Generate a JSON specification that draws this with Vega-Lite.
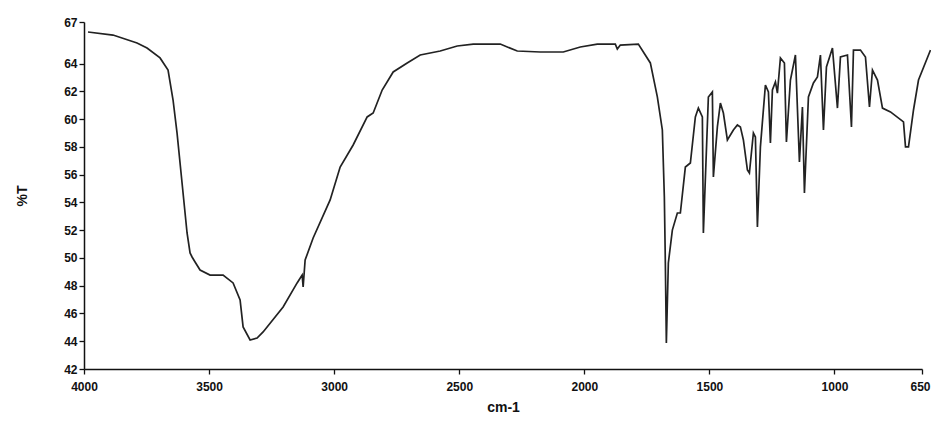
{
  "$schema": "https://vega.github.io/schema/vega-lite/v6.json",
  "width": 838,
  "height": 347,
  "autosize": {"type": "none"},
  "padding": {"left": 84, "top": 22, "right": 9, "bottom": 56},
  "background": "white",
  "config": {
    "view": {"stroke": null},
    "axis": {
      "grid": false,
      "domainColor": "#111",
      "domainWidth": 1.5,
      "tickColor": "#111",
      "tickWidth": 1.3,
      "tickSize": 5,
      "labelFont": "Liberation Sans",
      "labelFontWeight": "bold",
      "labelFontSize": 12,
      "labelColor": "#111",
      "titleFont": "Liberation Sans",
      "titleFontWeight": "bold",
      "titleColor": "#111"
    }
  },
  "data": {
    "values": [
      {"wn": 3984, "t": 66.28}, {"wn": 3884, "t": 66.06}, {"wn": 3788, "t": 65.49}, {"wn": 3748, "t": 65.13},
      {"wn": 3696, "t": 64.41}, {"wn": 3664, "t": 63.54}, {"wn": 3644, "t": 61.38}, {"wn": 3628, "t": 59.0},
      {"wn": 3608, "t": 55.4}, {"wn": 3588, "t": 51.8}, {"wn": 3576, "t": 50.36}, {"wn": 3568, "t": 50.07},
      {"wn": 3556, "t": 49.71}, {"wn": 3536, "t": 49.13}, {"wn": 3496, "t": 48.77}, {"wn": 3444, "t": 48.77},
      {"wn": 3404, "t": 48.2}, {"wn": 3376, "t": 46.97}, {"wn": 3364, "t": 45.03}, {"wn": 3336, "t": 44.09},
      {"wn": 3308, "t": 44.23}, {"wn": 3284, "t": 44.67}, {"wn": 3204, "t": 46.47}, {"wn": 3148, "t": 48.2},
      {"wn": 3128, "t": 48.77}, {"wn": 3124, "t": 47.91}, {"wn": 3116, "t": 49.85}, {"wn": 3084, "t": 51.44},
      {"wn": 3016, "t": 54.18}, {"wn": 2976, "t": 56.55}, {"wn": 2924, "t": 58.14}, {"wn": 2868, "t": 60.16},
      {"wn": 2844, "t": 60.44}, {"wn": 2808, "t": 62.1}, {"wn": 2764, "t": 63.4}, {"wn": 2708, "t": 64.05},
      {"wn": 2656, "t": 64.62}, {"wn": 2576, "t": 64.91}, {"wn": 2508, "t": 65.27}, {"wn": 2444, "t": 65.41},
      {"wn": 2336, "t": 65.41}, {"wn": 2268, "t": 64.91}, {"wn": 2176, "t": 64.84}, {"wn": 2084, "t": 64.84},
      {"wn": 2016, "t": 65.2}, {"wn": 1948, "t": 65.41}, {"wn": 1876, "t": 65.41}, {"wn": 1868, "t": 65.05},
      {"wn": 1856, "t": 65.34}, {"wn": 1784, "t": 65.41}, {"wn": 1736, "t": 64.05}, {"wn": 1708, "t": 61.6},
      {"wn": 1688, "t": 59.22}, {"wn": 1680, "t": 54.39}, {"wn": 1676, "t": 49.64}, {"wn": 1672, "t": 43.87},
      {"wn": 1664, "t": 49.64}, {"wn": 1648, "t": 52.01}, {"wn": 1628, "t": 53.24}, {"wn": 1616, "t": 53.24},
      {"wn": 1596, "t": 56.55}, {"wn": 1576, "t": 56.84}, {"wn": 1556, "t": 60.16}, {"wn": 1544, "t": 60.8},
      {"wn": 1528, "t": 60.16}, {"wn": 1524, "t": 51.8}, {"wn": 1504, "t": 61.6}, {"wn": 1488, "t": 61.96},
      {"wn": 1484, "t": 55.83}, {"wn": 1468, "t": 59.44}, {"wn": 1456, "t": 61.16}, {"wn": 1444, "t": 60.44},
      {"wn": 1428, "t": 58.5}, {"wn": 1404, "t": 59.22}, {"wn": 1388, "t": 59.58}, {"wn": 1376, "t": 59.44},
      {"wn": 1364, "t": 58.5}, {"wn": 1348, "t": 56.34}, {"wn": 1340, "t": 56.12}, {"wn": 1324, "t": 59.0},
      {"wn": 1316, "t": 58.71}, {"wn": 1308, "t": 52.23}, {"wn": 1296, "t": 58.0}, {"wn": 1276, "t": 62.46},
      {"wn": 1264, "t": 61.96}, {"wn": 1256, "t": 58.28}, {"wn": 1248, "t": 62.1}, {"wn": 1236, "t": 62.68},
      {"wn": 1228, "t": 61.88}, {"wn": 1216, "t": 64.41}, {"wn": 1200, "t": 64.05}, {"wn": 1192, "t": 58.35},
      {"wn": 1176, "t": 62.82}, {"wn": 1156, "t": 64.62}, {"wn": 1140, "t": 56.91}, {"wn": 1128, "t": 60.88},
      {"wn": 1120, "t": 54.68}, {"wn": 1104, "t": 61.6}, {"wn": 1084, "t": 62.61}, {"wn": 1068, "t": 63.04},
      {"wn": 1056, "t": 64.62}, {"wn": 1044, "t": 59.22}, {"wn": 1032, "t": 63.76}, {"wn": 1008, "t": 65.13},
      {"wn": 988, "t": 60.8}, {"wn": 976, "t": 64.48}, {"wn": 948, "t": 64.62}, {"wn": 932, "t": 59.44},
      {"wn": 924, "t": 64.98}, {"wn": 896, "t": 64.98}, {"wn": 876, "t": 64.48}, {"wn": 860, "t": 60.88},
      {"wn": 848, "t": 63.54}, {"wn": 828, "t": 62.82}, {"wn": 808, "t": 60.8}, {"wn": 776, "t": 60.52},
      {"wn": 724, "t": 59.8}, {"wn": 716, "t": 58.0}, {"wn": 704, "t": 58.0}, {"wn": 684, "t": 60.66},
      {"wn": 664, "t": 62.82}, {"wn": 616, "t": 64.98}
    ]
  },
  "mark": {"type": "line", "color": "#222", "strokeWidth": 1.7, "interpolate": "linear"},
  "encoding": {
    "x": {
      "field": "wn",
      "type": "quantitative",
      "scale": {"domain": [4000, 650], "nice": false, "zero": false},
      "axis": {
        "title": "cm-1",
        "titleFontSize": 14,
        "titlePadding": 8,
        "values": [4000, 3500, 3000, 2500, 2000, 1500, 1000, 650],
        "format": "d",
        "labelFlush": false,
        "labelPadding": 7,
        "labelAlign": {"condition": {"test": "datum.value == 650", "value": "right"}, "value": "center"},
        "labelOffset": {"condition": {"test": "datum.value == 650", "value": 8}, "value": 0}
      }
    },
    "y": {
      "field": "t",
      "type": "quantitative",
      "scale": {"domain": [42, 67], "nice": false, "zero": false},
      "axis": {
        "title": "%T",
        "titleFontSize": 14,
        "titlePadding": 34,
        "values": [42, 44, 46, 48, 50, 52, 54, 56, 58, 60, 62, 64, 67],
        "labelPadding": 2,
        "labelFlush": false
      }
    }
  }
}
